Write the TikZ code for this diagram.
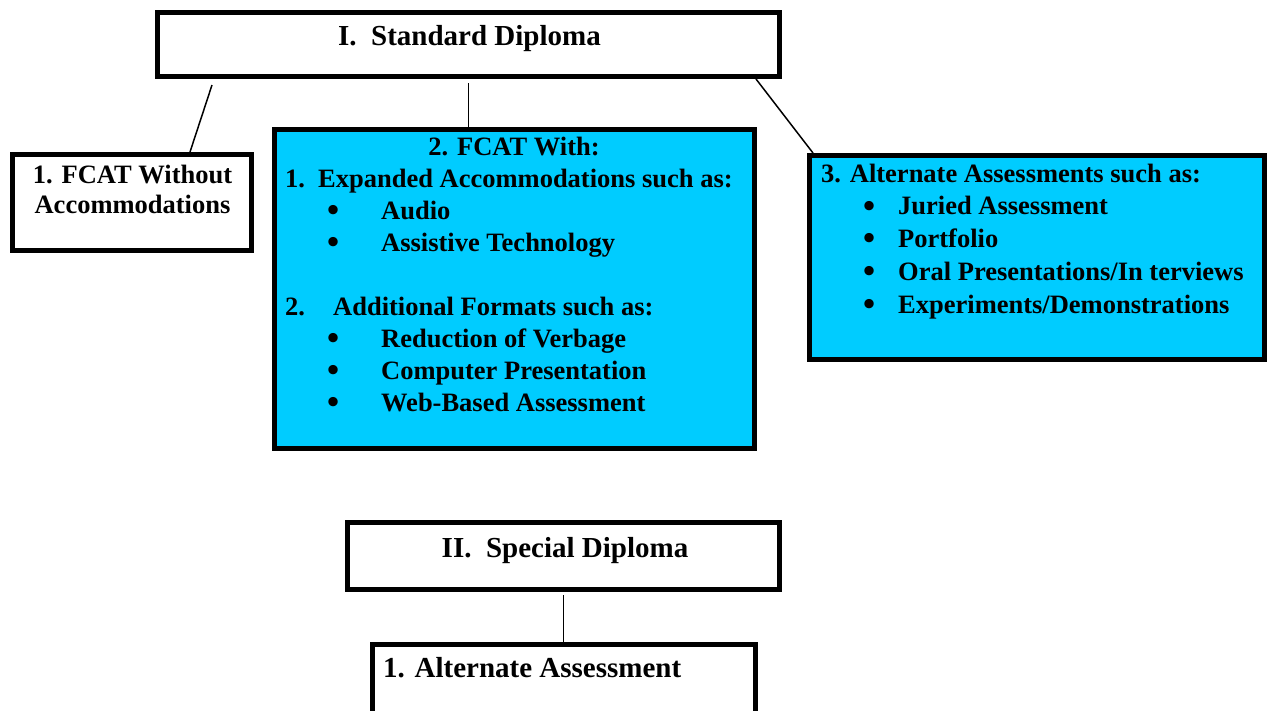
\documentclass[tikz,border=0pt]{standalone}
\usepackage{fontspec}
\usepackage{graphicx}
\setmainfont{Liberation Serif}
\definecolor{boxblue}{HTML}{00CCFF}
% a slightly larger list bullet
\newcommand{\bigdot}{\raisebox{-2.4pt}{\scalebox{1.3}{\textbullet}}}
\begin{document}
\begin{tikzpicture}[x=1pt,y=-1pt,
  box/.style={draw=black, line width=5pt, rectangle, inner sep=0pt, fill=white},
  bluebox/.style={box, fill=boxblue},
  wire/.style={draw=black, line width=1.5pt},
  body/.style={font=\bfseries\fontsize{26.5}{32}\selectfont, inner sep=0pt, align=left, anchor=base west},
  title/.style={font=\bfseries\fontsize{29}{34}\selectfont, inner sep=0pt, anchor=base}]
\useasboundingbox (0,0) rectangle (1267,710);
\begin{scope}
\clip (0,0) rectangle (1267,710);

% boxes
\node[box, minimum width=622pt, minimum height=64pt] (top) at (468.5,44.5) {};
\node[box, minimum width=239pt, minimum height=96pt] (b1) at (132,202.5) {};
\node[bluebox, minimum width=480pt, minimum height=319pt] (b2) at (514.5,289) {};
\node[bluebox, minimum width=455pt, minimum height=204pt] (b3) at (1037,257.5) {};
\node[box, minimum width=432pt, minimum height=67pt] (sp) at (563.5,556) {};
\node[box, minimum width=383pt, minimum height=95pt] (alt) at (564,692) {};

% connectors
\draw[wire] ([xshift=57pt,yshift=-6pt]top.south west) -- ([xshift=58pt]b1.north);
\draw[wire] ([yshift=-4pt]top.south) -- (top.south |- b2.north);
\draw[wire] ([xshift=-26pt]top.south east) -- ([xshift=6pt]b3.north west);
\draw[wire] ([yshift=-3pt]sp.south) -- (sp.south |- alt.north);

% texts (multi-line nodes are placed by the baseline of their last line)
\node[title] (topt) at (469.5,45) {I.\ \ Standard Diploma};
\node[body, align=center, anchor=base, font=\bfseries\fontsize{26.5}{30}\selectfont] (b1t) at (132.5,213) {1. FCAT Without\\Accommodations};
\node[body, anchor=base] (b2h) at (514,155) {2. FCAT With:};
\node[body] (b2l) at (285,411) {\makebox[33pt][l]{1.}Expanded Accommodations such as:\\
\hspace*{42pt}\makebox[54pt][l]{\bigdot}Audio\\
\hspace*{42pt}\makebox[54pt][l]{\bigdot}Assistive Technology\\[32pt]
\makebox[48pt][l]{2.}Additional Formats such as:\\
\hspace*{42pt}\makebox[54pt][l]{\bigdot}Reduction of Verbage\\
\hspace*{42pt}\makebox[54pt][l]{\bigdot}Computer Presentation\\
\hspace*{42pt}\makebox[54pt][l]{\bigdot}Web-Based Assessment};
\node[body, font=\bfseries\fontsize{26.5}{32.75}\selectfont] (b3l) at (821,313) {3. Alternate Assessments such as:\\
\hspace*{42pt}\makebox[35pt][l]{\bigdot}Juried Assessment\\
\hspace*{42pt}\makebox[35pt][l]{\bigdot}Portfolio\\
\hspace*{42pt}\makebox[35pt][l]{\bigdot}Oral Presentations/In terviews\\
\hspace*{42pt}\makebox[35pt][l]{\bigdot}Experiments/Demonstrations};
\node[title] (spt) at (565,557) {II.\ \ Special Diploma};
\node[title, anchor=base west] (altt) at (383,677) {1. Alternate Assessment};
\end{scope}
\end{tikzpicture}
\end{document}
